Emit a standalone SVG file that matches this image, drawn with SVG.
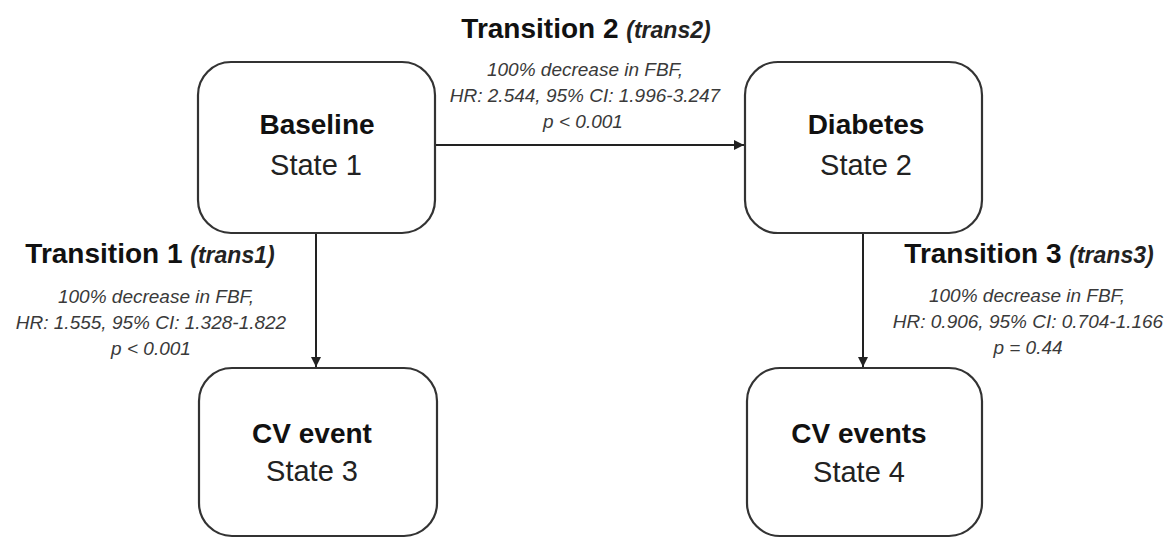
<svg xmlns="http://www.w3.org/2000/svg" width="1174" height="538" viewBox="0 0 1174 538">
<style>
.box{fill:#fff;stroke:#333;stroke-width:2.2}
.conn{fill:none;stroke:#222;stroke-width:2}
.nt{font-family:"Liberation Sans",Arial,sans-serif;font-size:28px;font-weight:bold;fill:#111;text-anchor:middle}
.ns{font-family:"Liberation Sans",Arial,sans-serif;font-size:29px;fill:#222;text-anchor:middle}
.tt{font-family:"Liberation Sans",Arial,sans-serif;font-size:28px;font-weight:bold;fill:#111;text-anchor:middle}
.ti{font-size:23px;font-style:italic;fill:#222}
.d{font-family:"Liberation Sans",Arial,sans-serif;font-size:19px;font-style:italic;fill:#3a3a3a;text-anchor:middle}
</style>
<defs>
<marker id="ah" viewBox="0 0 10 10" refX="10" refY="5" markerWidth="5" markerHeight="5" orient="auto" markerUnits="strokeWidth">
<path d="M0,0 L10,5 L0,10 z" fill="#222"/>
</marker>
</defs>
<rect width="1174" height="538" fill="#fff"/>
<g id="connectors">
<line class="conn" x1="435" y1="145" x2="744" y2="145" marker-end="url(#ah)"/>
<line class="conn" x1="316" y1="233" x2="316" y2="367" marker-end="url(#ah)"/>
<line class="conn" x1="863" y1="233" x2="863" y2="367" marker-end="url(#ah)"/>
</g>
<g id="node-baseline">
<rect class="box" x="198" y="62" width="237" height="171" rx="33"/>
<text class="nt" x="317" y="134">Baseline</text>
<text class="ns" x="316" y="175">State 1</text>
</g>
<g id="node-diabetes">
<rect class="box" x="745" y="62" width="237" height="171" rx="33"/>
<text class="nt" x="866" y="134">Diabetes</text>
<text class="ns" x="866" y="175">State 2</text>
</g>
<g id="node-cvevent">
<rect class="box" x="199" y="368" width="238" height="168" rx="33"/>
<text class="nt" x="312" y="443">CV event</text>
<text class="ns" x="312" y="481">State 3</text>
</g>
<g id="node-cvevents">
<rect class="box" x="747" y="368" width="235" height="168" rx="33"/>
<text class="nt" x="859" y="443">CV events</text>
<text class="ns" x="859" y="482">State 4</text>
</g>
<g id="label-trans2">
<text class="tt" x="586" y="38">Transition 2 <tspan class="ti">(trans2)</tspan></text>
<text class="d" x="585" y="76">100% decrease in FBF,</text>
<text class="d" x="585" y="102">HR: 2.544, 95% CI: 1.996-3.247</text>
<text class="d" x="583" y="128">p &lt; 0.001</text>
</g>
<g id="label-trans1">
<text class="tt" x="150" y="263">Transition 1 <tspan class="ti">(trans1)</tspan></text>
<text class="d" x="156" y="303">100% decrease in FBF,</text>
<text class="d" x="151" y="329">HR: 1.555, 95% CI: 1.328-1.822</text>
<text class="d" x="151" y="355">p &lt; 0.001</text>
</g>
<g id="label-trans3">
<text class="tt" x="1029" y="263">Transition 3 <tspan class="ti">(trans3)</tspan></text>
<text class="d" x="1027" y="302">100% decrease in FBF,</text>
<text class="d" x="1028" y="328">HR: 0.906, 95% CI: 0.704-1.166</text>
<text class="d" x="1028" y="354">p = 0.44</text>
</g>
</svg>
